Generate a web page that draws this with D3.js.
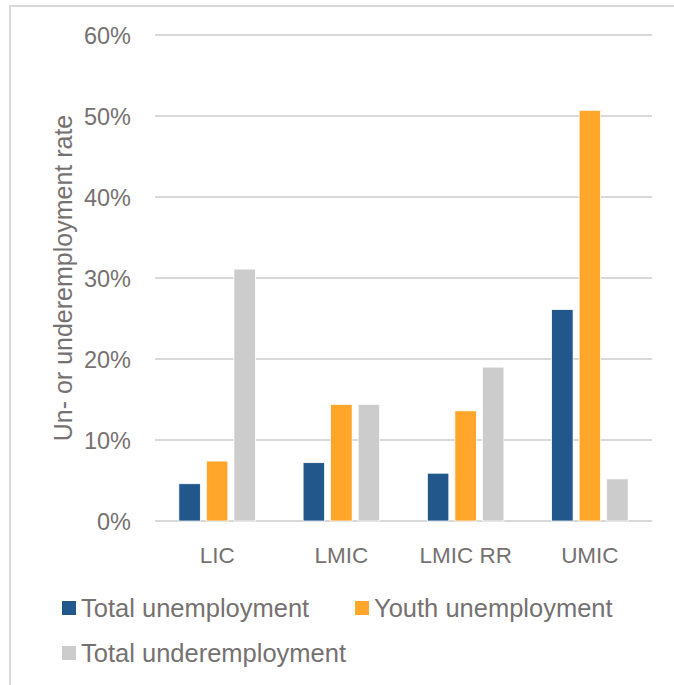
<!DOCTYPE html>
<html>
<head>
<meta charset="utf-8">
<script src="https://cdn.jsdelivr.net/npm/d3@7"></script>
<style>
  html, body { margin: 0; padding: 0; background: #fff; }
  svg { display: block; }
  text { font-family: "Liberation Sans", Arial, sans-serif; fill: #767171; }
</style>
</head>
<body>
<div id="chart"></div>
<script>
// Income groups and the three rates (in %)
const categories = ['LIC', 'LMIC', 'LMIC RR', 'UMIC'];
const seriesNames = ['Total unemployment', 'Youth unemployment', 'Total underemployment'];
const totalUnemployment = [4.6, 7.2, 5.9, 26.1];
const youthUnemployment = [7.4, 14.4, 13.6, 50.7];
const totalUnderemployment = [31.1, 14.4, 19.0, 5.2];
const yTicks = [0, 10, 20, 30, 40, 50, 60];

const seriesValues = [totalUnemployment, youthUnemployment, totalUnderemployment];
const colors = ['#21578a', '#ffa62b', '#cccccc'];

const width = 674;
const height = 685;
const plot = { left: 155, right: 652, top: 35, bottom: 521 };

const svg = d3.select('#chart')
  .append('svg')
  .attr('width', width)
  .attr('height', height);

// Outer chart border (only top and left visible in the frame)
svg.append('rect')
  .attr('x', 10)
  .attr('y', 6)
  .attr('width', 700)
  .attr('height', 700)
  .attr('fill', 'none')
  .attr('stroke', '#d9d9d9')
  .attr('stroke-width', 2);

const y = d3.scaleLinear().domain([0, 60]).range([plot.bottom, plot.top]);

const x0 = d3.scaleBand()
  .domain(categories)
  .range([plot.left, plot.right])
  .paddingInner(0.384)
  .paddingOuter(0.192);

const x1 = d3.scaleBand()
  .domain(seriesNames)
  .range([0, x0.bandwidth()])
  .paddingInner(0.22);

// Gridlines
svg.append('g')
  .selectAll('line')
  .data(yTicks)
  .join('line')
  .attr('x1', plot.left)
  .attr('x2', plot.right)
  .attr('y1', d => y(d))
  .attr('y2', d => y(d))
  .attr('stroke', '#d9d9d9')
  .attr('stroke-width', 2);

// Y axis labels
const yAxis = svg.append('g')
  .attr('transform', `translate(${plot.left - 24},0)`)
  .call(d3.axisLeft(y).tickValues(yTicks).tickSize(0).tickPadding(0).tickFormat(d => d + '%'));
yAxis.select('.domain').remove();
yAxis.selectAll('text')
  .attr('font-size', 23.5)
  .attr('dy', '0.35em')
  .style('font-family', '"Liberation Sans", Arial, sans-serif')
  .attr('fill', '#767171');

// Y axis title
svg.append('text')
  .attr('transform', `translate(72,${(plot.top + plot.bottom) / 2}) rotate(-90)`)
  .attr('text-anchor', 'middle')
  .attr('font-size', 25)
  .text('Un- or underemployment rate');

// Bars
const rows = categories.map((c, i) => ({
  cat: c,
  values: seriesNames.map((s, j) => ({ series: s, value: seriesValues[j][i], idx: j }))
}));

const groups = svg.append('g')
  .selectAll('g')
  .data(rows)
  .join('g')
  .attr('transform', d => `translate(${x0(d.cat)},0)`);

groups.selectAll('rect')
  .data(d => d.values)
  .join('rect')
  .attr('x', d => x1(d.series))
  .attr('y', d => y(d.value))
  .attr('width', x1.bandwidth())
  .attr('height', d => y(0) - y(d.value))
  .attr('fill', d => colors[d.idx])
  .attr('stroke', '#ffffff')
  .attr('stroke-width', 0.75);

// X axis labels
const xAxis = svg.append('g')
  .attr('transform', `translate(0,${plot.bottom})`)
  .call(d3.axisBottom(x0).tickSize(0).tickPadding(0));
xAxis.select('.domain').remove();
xAxis.selectAll('text')
  .attr('font-size', 22.5)
  .attr('y', 42)
  .attr('dy', 0)
  .style('font-family', '"Liberation Sans", Arial, sans-serif')
  .attr('fill', '#767171');

// Legend
const legendItems = [
  { name: seriesNames[0], color: colors[0], x: 62, y: 608 },
  { name: seriesNames[1], color: colors[1], x: 355, y: 608 },
  { name: seriesNames[2], color: colors[2], x: 62, y: 653 }
];

const legend = svg.append('g')
  .selectAll('g')
  .data(legendItems)
  .join('g')
  .attr('transform', d => `translate(${d.x},${d.y})`);

legend.append('rect')
  .attr('x', 0)
  .attr('y', -7)
  .attr('width', 14)
  .attr('height', 14)
  .attr('fill', d => d.color);

legend.append('text')
  .attr('x', 19)
  .attr('y', 9)
  .attr('font-size', 25.5)
  .text(d => d.name);
</script>
</body>
</html>
